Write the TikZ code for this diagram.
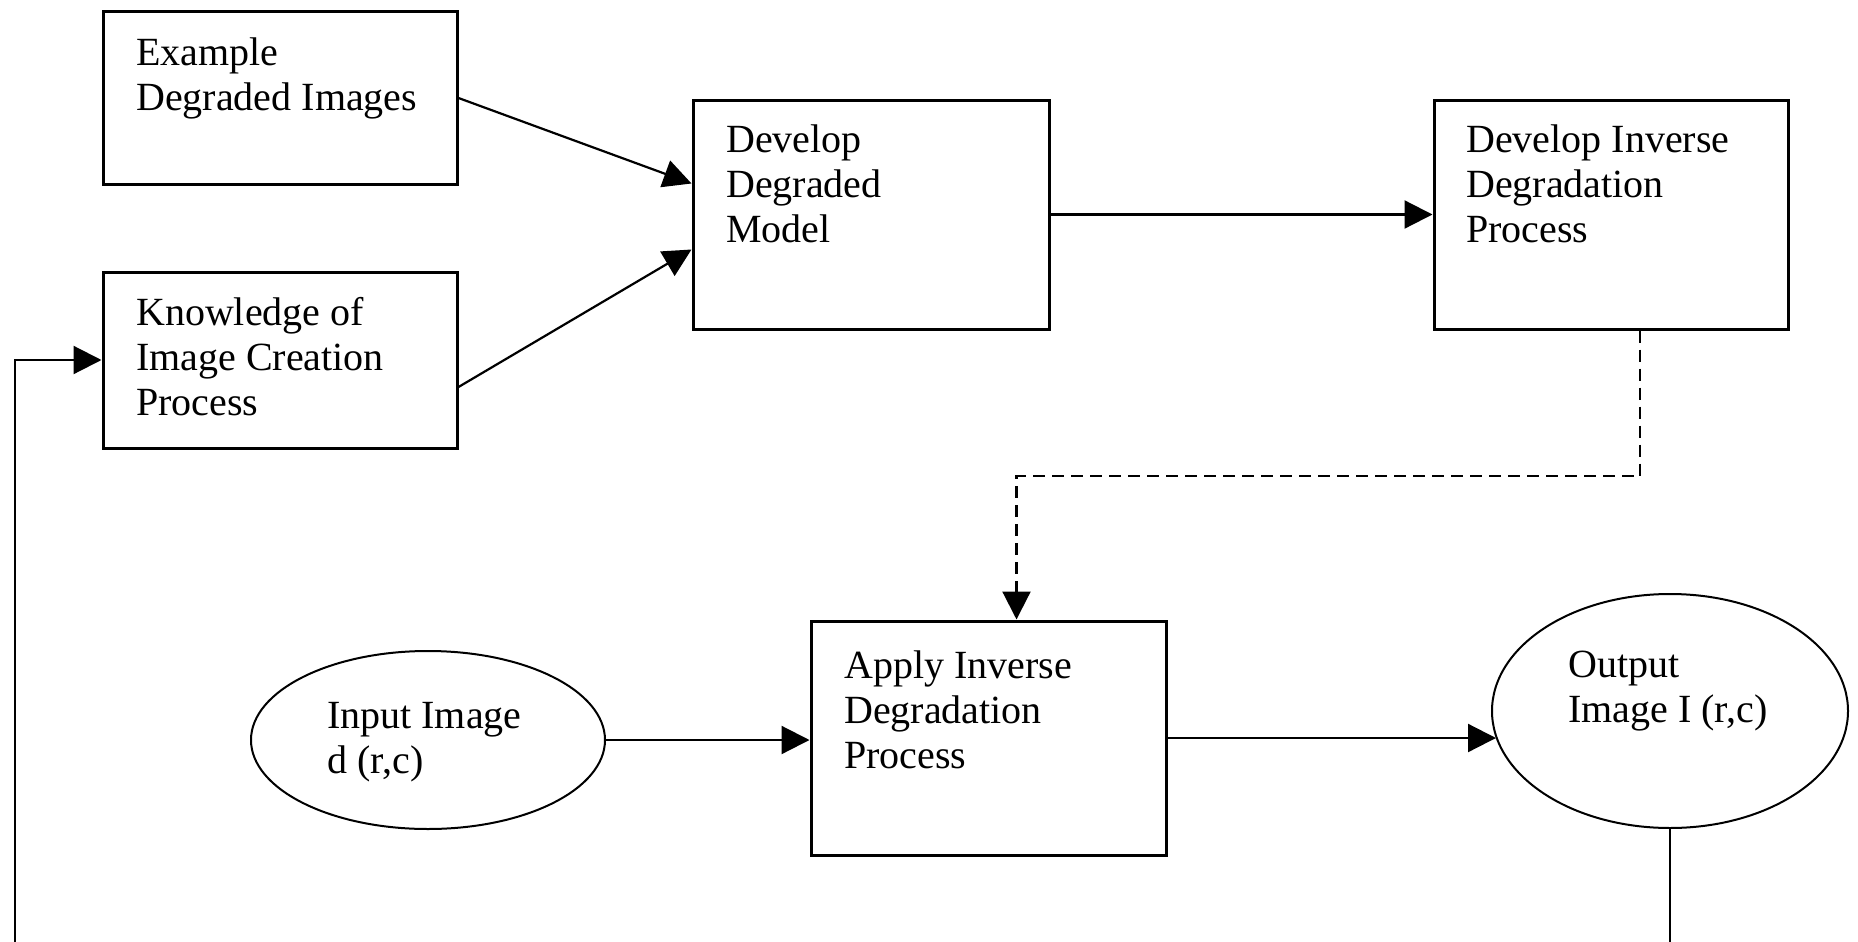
\documentclass[tikz,border=0pt]{standalone}
\usepackage{fontspec}
\setmainfont{Liberation Serif}
\usetikzlibrary{arrows.meta,shapes.geometric}
\tikzset{
  box/.style={draw, line width=3pt, rectangle, inner sep=0pt},
  oval/.style={draw, line width=2pt, ellipse, inner sep=0pt},
  txt/.style={font=\fontsize{40}{45}\selectfont, align=left, inner sep=0pt, anchor=north west},
  conn/.style={line width=2.2pt, -{Triangle[length=28pt,width=28pt]}},
  dashconn/.style={conn, dash pattern=on 12pt off 7pt},
}
\begin{document}
\begin{tikzpicture}[x=1pt,y=1pt]
\useasboundingbox (0,0) rectangle (1858,-942);
\fill[white] (0,0) rectangle (1858,-942);
\clip (0,0) rectangle (1858,-942);
% boxes
\node[box, minimum width=354pt, minimum height=172pt] (ex) at (280,-98) {};
\node[box, minimum width=354pt, minimum height=176pt] (know) at (280,-360) {};
\node[box, minimum width=356pt, minimum height=229pt] (dev) at (871,-214.5) {};
\node[box, minimum width=354pt, minimum height=229pt] (inv) at (1611,-214.5) {};
\node[box, minimum width=355pt, minimum height=234pt] (apply) at (988.5,-738) {};
\node[oval, minimum width=354pt, minimum height=178pt] (in) at (428,-740) {};
\node[oval, minimum width=356pt, minimum height=234pt] (out) at (1670,-711) {};
% texts
\node[txt] (exT) at (136,-33.5) {\strut Example\\Degraded Images};
\node[txt] (knowT) at (136,-293.5) {\strut Knowledge of\\Image Creation\\Process};
\node[txt] (devT) at (726,-120.5) {\strut Develop\\Degraded\\Model};
\node[txt] (invT) at (1466,-120.5) {\strut Develop Inverse\\Degradation\\Process};
\node[txt] (applyT) at (844,-646.5) {\strut Apply Inverse\\Degradation\\Process};
\node[txt] (inT) at (327,-696.5) {\strut Input Image\\d (r,c)};
\node[txt] (outT) at (1568,-645.5) {\strut Output\\Image I (r,c)};
% connectors
\coordinate (dmid) at (1300,-476);
\coordinate (fb) at (15,-1000);
\draw[conn] (ex.east) -- ([yshift=31pt]dev.west);
\draw[conn] ([yshift=-27pt]know.east) -- ([yshift=-35pt]dev.west);
\draw[conn] (dev.east) -- (inv.west);
\draw[dashconn] ([xshift=29pt]inv.south) |- (dmid) -| ([xshift=28pt]apply.north);
\draw[conn] (in.east) -- (in.east -| apply.west);
\draw[conn] (apply.east) -- ([xshift=5pt]apply.east -| out.west);
\draw[conn] (out.south) |- (fb) |- (know.west);
\end{tikzpicture}
\end{document}
